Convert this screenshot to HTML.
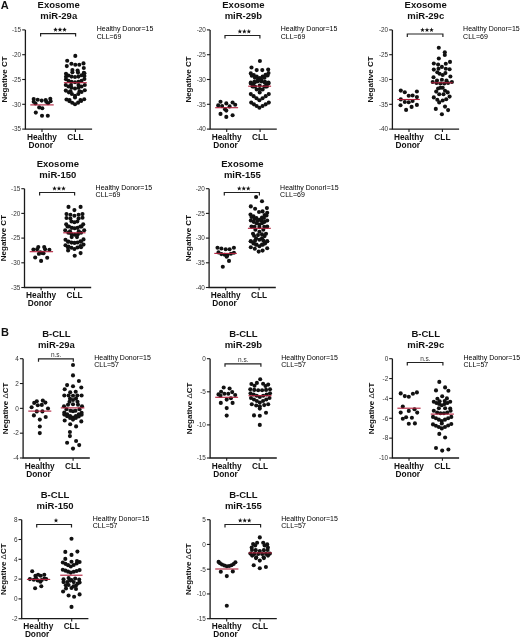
<!DOCTYPE html>
<html><head><meta charset="utf-8"><style>
html,body{margin:0;padding:0;background:#fff;}
body{width:520px;height:639px;overflow:hidden;}
svg{display:block;font-family:"Liberation Sans", sans-serif;will-change:transform;}
</style></head><body>
<svg width="520" height="639" viewBox="0 0 520 639">
<rect width="520" height="639" fill="#fff"/>
<path d="M25.40 29.90 V129.10 H92.10" fill="none" stroke="#1a1a1a" stroke-width="1.3"/>
<path d="M22.20 29.90 H25.40" stroke="#1a1a1a" stroke-width="1.1"/>
<text x="21.20" y="32.20" font-size="6.4" font-weight="normal" text-anchor="end" fill="#333" >-15</text>
<path d="M22.20 54.70 H25.40" stroke="#1a1a1a" stroke-width="1.1"/>
<text x="21.20" y="57.00" font-size="6.4" font-weight="normal" text-anchor="end" fill="#333" >-20</text>
<path d="M22.20 79.50 H25.40" stroke="#1a1a1a" stroke-width="1.1"/>
<text x="21.20" y="81.80" font-size="6.4" font-weight="normal" text-anchor="end" fill="#333" >-25</text>
<path d="M22.20 104.30 H25.40" stroke="#1a1a1a" stroke-width="1.1"/>
<text x="21.20" y="106.60" font-size="6.4" font-weight="normal" text-anchor="end" fill="#333" >-30</text>
<path d="M22.20 129.10 H25.40" stroke="#1a1a1a" stroke-width="1.1"/>
<text x="21.20" y="131.40" font-size="6.4" font-weight="normal" text-anchor="end" fill="#333" >-35</text>
<path d="M42.00 129.10 V131.90" stroke="#1a1a1a" stroke-width="1.1"/>
<path d="M75.40 129.10 V131.90" stroke="#1a1a1a" stroke-width="1.1"/>
<text x="42.00" y="139.80" font-size="8.3" font-weight="bold" text-anchor="middle" fill="#111" >Healthy</text>
<text x="40.80" y="147.70" font-size="8.3" font-weight="bold" text-anchor="middle" fill="#111" >Donor</text>
<text x="75.40" y="139.80" font-size="8.3" font-weight="bold" text-anchor="middle" fill="#111" >CLL</text>
<text x="58.70" y="8.10" font-size="9.5" font-weight="bold" text-anchor="middle" fill="#111" >Exosome</text>
<text x="58.70" y="18.70" font-size="9.5" font-weight="bold" text-anchor="middle" fill="#111" >miR-29a</text>
<text x="0" y="0" font-size="8" font-weight="bold" text-anchor="middle" fill="#111" transform="translate(6.80,79.50) rotate(-90)">Negative CT</text>
<text x="96.70" y="31.00" font-size="7" font-weight="normal" text-anchor="start" fill="#000" >Healthy Donor=15</text>
<text x="96.70" y="38.50" font-size="7" font-weight="normal" text-anchor="start" fill="#000" >CLL=69</text>
<path d="M40.60 36.60 V33.70 H75.60 V36.60" fill="none" stroke="#222" stroke-width="1.2"/>
<polygon points="55.50,27.30 56.12,28.85 57.78,28.96 56.50,30.02 56.91,31.64 55.50,30.75 54.09,31.64 54.50,30.02 53.22,28.96 54.88,28.85" fill="#111"/>
<polygon points="60.00,27.30 60.62,28.85 62.28,28.96 61.00,30.02 61.41,31.64 60.00,30.75 58.59,31.64 59.00,30.02 57.72,28.96 59.38,28.85" fill="#111"/>
<polygon points="64.50,27.30 65.12,28.85 66.78,28.96 65.50,30.02 65.91,31.64 64.50,30.75 63.09,31.64 63.50,30.02 62.22,28.96 63.88,28.85" fill="#111"/>
<g fill="#111">
<circle cx="33.70" cy="99.10" r="2.05"/>
<circle cx="37.70" cy="99.70" r="2.05"/>
<circle cx="41.70" cy="100.60" r="2.05"/>
<circle cx="45.70" cy="100.00" r="2.05"/>
<circle cx="50.30" cy="98.80" r="2.05"/>
<circle cx="50.60" cy="101.20" r="2.05"/>
<circle cx="33.70" cy="101.80" r="2.05"/>
<circle cx="46.30" cy="101.80" r="2.05"/>
<circle cx="39.20" cy="107.40" r="2.05"/>
<circle cx="42.30" cy="108.30" r="2.05"/>
<circle cx="35.80" cy="112.60" r="2.05"/>
<circle cx="42.00" cy="115.70" r="2.05"/>
<circle cx="47.80" cy="115.70" r="2.05"/>
<circle cx="35.50" cy="103.50" r="2.05"/>
<circle cx="48.00" cy="103.30" r="2.05"/>
<circle cx="75.30" cy="55.90" r="2.05"/>
<circle cx="67.20" cy="60.80" r="2.05"/>
<circle cx="66.80" cy="66.10" r="2.05"/>
<circle cx="71.40" cy="63.80" r="2.05"/>
<circle cx="75.30" cy="64.80" r="2.05"/>
<circle cx="79.30" cy="64.80" r="2.05"/>
<circle cx="83.50" cy="63.40" r="2.05"/>
<circle cx="83.80" cy="68.00" r="2.05"/>
<circle cx="72.40" cy="70.00" r="2.05"/>
<circle cx="72.40" cy="72.30" r="2.05"/>
<circle cx="77.60" cy="70.60" r="2.05"/>
<circle cx="78.00" cy="72.60" r="2.05"/>
<circle cx="83.80" cy="72.90" r="2.05"/>
<circle cx="66.00" cy="73.80" r="2.05"/>
<circle cx="68.50" cy="75.50" r="2.05"/>
<circle cx="71.50" cy="76.60" r="2.05"/>
<circle cx="75.00" cy="77.00" r="2.05"/>
<circle cx="78.50" cy="76.60" r="2.05"/>
<circle cx="81.50" cy="75.20" r="2.05"/>
<circle cx="84.40" cy="73.20" r="2.05"/>
<circle cx="66.00" cy="76.80" r="2.05"/>
<circle cx="84.40" cy="76.00" r="2.05"/>
<circle cx="66.00" cy="79.30" r="2.05"/>
<circle cx="68.50" cy="80.80" r="2.05"/>
<circle cx="71.50" cy="81.80" r="2.05"/>
<circle cx="75.00" cy="82.20" r="2.05"/>
<circle cx="78.50" cy="81.80" r="2.05"/>
<circle cx="81.50" cy="80.80" r="2.05"/>
<circle cx="84.40" cy="79.00" r="2.05"/>
<circle cx="65.80" cy="85.00" r="2.05"/>
<circle cx="68.50" cy="86.50" r="2.05"/>
<circle cx="71.50" cy="87.80" r="2.05"/>
<circle cx="75.00" cy="88.50" r="2.05"/>
<circle cx="78.50" cy="87.80" r="2.05"/>
<circle cx="81.50" cy="86.50" r="2.05"/>
<circle cx="84.80" cy="85.00" r="2.05"/>
<circle cx="71.00" cy="85.00" r="2.05"/>
<circle cx="78.50" cy="85.00" r="2.05"/>
<circle cx="65.80" cy="90.60" r="2.05"/>
<circle cx="68.87" cy="92.33" r="2.05"/>
<circle cx="71.93" cy="94.07" r="2.05"/>
<circle cx="75.00" cy="95.80" r="2.05"/>
<circle cx="78.27" cy="93.93" r="2.05"/>
<circle cx="81.53" cy="92.07" r="2.05"/>
<circle cx="84.80" cy="90.20" r="2.05"/>
<circle cx="70.50" cy="91.30" r="2.05"/>
<circle cx="79.50" cy="91.30" r="2.05"/>
<circle cx="75.00" cy="97.50" r="2.05"/>
<circle cx="66.50" cy="99.50" r="2.05"/>
<circle cx="69.33" cy="101.10" r="2.05"/>
<circle cx="72.17" cy="102.70" r="2.05"/>
<circle cx="75.00" cy="104.30" r="2.05"/>
<circle cx="78.07" cy="102.63" r="2.05"/>
<circle cx="81.13" cy="100.97" r="2.05"/>
<circle cx="84.20" cy="99.30" r="2.05"/>
<circle cx="69.50" cy="100.00" r="2.05"/>
<circle cx="80.50" cy="100.00" r="2.05"/>
</g>
<path d="M30.30 104.90 H53.70" stroke="#b01e3a" stroke-width="1.1"/>
<path d="M63.90 82.70 H86.80" stroke="#b01e3a" stroke-width="1.1"/>
<path d="M210.10 29.90 V129.10 H276.80" fill="none" stroke="#1a1a1a" stroke-width="1.3"/>
<path d="M206.90 29.90 H210.10" stroke="#1a1a1a" stroke-width="1.1"/>
<text x="205.90" y="32.20" font-size="6.4" font-weight="normal" text-anchor="end" fill="#333" >-20</text>
<path d="M206.90 54.70 H210.10" stroke="#1a1a1a" stroke-width="1.1"/>
<text x="205.90" y="57.00" font-size="6.4" font-weight="normal" text-anchor="end" fill="#333" >-25</text>
<path d="M206.90 79.50 H210.10" stroke="#1a1a1a" stroke-width="1.1"/>
<text x="205.90" y="81.80" font-size="6.4" font-weight="normal" text-anchor="end" fill="#333" >-30</text>
<path d="M206.90 104.30 H210.10" stroke="#1a1a1a" stroke-width="1.1"/>
<text x="205.90" y="106.60" font-size="6.4" font-weight="normal" text-anchor="end" fill="#333" >-35</text>
<path d="M206.90 129.10 H210.10" stroke="#1a1a1a" stroke-width="1.1"/>
<text x="205.90" y="131.40" font-size="6.4" font-weight="normal" text-anchor="end" fill="#333" >-40</text>
<path d="M226.70 129.10 V131.90" stroke="#1a1a1a" stroke-width="1.1"/>
<path d="M260.10 129.10 V131.90" stroke="#1a1a1a" stroke-width="1.1"/>
<text x="226.70" y="139.80" font-size="8.3" font-weight="bold" text-anchor="middle" fill="#111" >Healthy</text>
<text x="225.50" y="147.70" font-size="8.3" font-weight="bold" text-anchor="middle" fill="#111" >Donor</text>
<text x="260.10" y="139.80" font-size="8.3" font-weight="bold" text-anchor="middle" fill="#111" >CLL</text>
<text x="243.40" y="8.10" font-size="9.5" font-weight="bold" text-anchor="middle" fill="#111" >Exosome</text>
<text x="243.40" y="18.70" font-size="9.5" font-weight="bold" text-anchor="middle" fill="#111" >miR-29b</text>
<text x="0" y="0" font-size="8" font-weight="bold" text-anchor="middle" fill="#111" transform="translate(190.90,79.50) rotate(-90)">Negative CT</text>
<text x="280.70" y="31.00" font-size="7" font-weight="normal" text-anchor="start" fill="#000" >Healthy Donor=15</text>
<text x="280.70" y="38.50" font-size="7" font-weight="normal" text-anchor="start" fill="#000" >CLL=69</text>
<path d="M225.00 38.40 V35.50 H259.90 V38.40" fill="none" stroke="#222" stroke-width="1.2"/>
<polygon points="239.85,29.10 240.47,30.65 242.13,30.76 240.85,31.82 241.26,33.44 239.85,32.55 238.44,33.44 238.85,31.82 237.57,30.76 239.23,30.65" fill="#111"/>
<polygon points="244.35,29.10 244.97,30.65 246.63,30.76 245.35,31.82 245.76,33.44 244.35,32.55 242.94,33.44 243.35,31.82 242.07,30.76 243.73,30.65" fill="#111"/>
<polygon points="248.85,29.10 249.47,30.65 251.13,30.76 249.85,31.82 250.26,33.44 248.85,32.55 247.44,33.44 247.85,31.82 246.57,30.76 248.23,30.65" fill="#111"/>
<g fill="#111">
<circle cx="220.50" cy="101.80" r="2.05"/>
<circle cx="226.30" cy="103.40" r="2.05"/>
<circle cx="232.60" cy="102.50" r="2.05"/>
<circle cx="235.20" cy="104.80" r="2.05"/>
<circle cx="218.20" cy="105.40" r="2.05"/>
<circle cx="222.10" cy="106.10" r="2.05"/>
<circle cx="229.60" cy="106.40" r="2.05"/>
<circle cx="225.00" cy="109.30" r="2.05"/>
<circle cx="226.30" cy="110.60" r="2.05"/>
<circle cx="220.50" cy="113.90" r="2.05"/>
<circle cx="226.30" cy="116.90" r="2.05"/>
<circle cx="232.60" cy="115.20" r="2.05"/>
<circle cx="259.90" cy="61.00" r="2.05"/>
<circle cx="251.50" cy="67.50" r="2.05"/>
<circle cx="256.70" cy="70.10" r="2.05"/>
<circle cx="262.30" cy="70.10" r="2.05"/>
<circle cx="268.20" cy="69.50" r="2.05"/>
<circle cx="250.80" cy="73.40" r="2.05"/>
<circle cx="253.77" cy="75.03" r="2.05"/>
<circle cx="256.73" cy="76.67" r="2.05"/>
<circle cx="259.70" cy="78.30" r="2.05"/>
<circle cx="268.50" cy="73.10" r="2.05"/>
<circle cx="265.57" cy="74.83" r="2.05"/>
<circle cx="262.63" cy="76.57" r="2.05"/>
<circle cx="259.70" cy="78.30" r="2.05"/>
<circle cx="250.80" cy="82.60" r="2.05"/>
<circle cx="254.34" cy="81.77" r="2.05"/>
<circle cx="257.88" cy="81.35" r="2.05"/>
<circle cx="261.42" cy="81.35" r="2.05"/>
<circle cx="264.96" cy="81.77" r="2.05"/>
<circle cx="268.50" cy="82.60" r="2.05"/>
<circle cx="250.80" cy="83.50" r="2.05"/>
<circle cx="253.77" cy="86.47" r="2.05"/>
<circle cx="256.73" cy="89.43" r="2.05"/>
<circle cx="259.70" cy="92.40" r="2.05"/>
<circle cx="262.63" cy="89.43" r="2.05"/>
<circle cx="265.57" cy="86.47" r="2.05"/>
<circle cx="268.50" cy="83.50" r="2.05"/>
<circle cx="255.00" cy="86.50" r="2.05"/>
<circle cx="264.40" cy="86.50" r="2.05"/>
<circle cx="259.70" cy="85.50" r="2.05"/>
<circle cx="253.00" cy="84.50" r="2.05"/>
<circle cx="266.50" cy="84.50" r="2.05"/>
<circle cx="259.70" cy="89.00" r="2.05"/>
<circle cx="251.80" cy="75.80" r="2.05"/>
<circle cx="254.90" cy="77.80" r="2.05"/>
<circle cx="258.00" cy="79.80" r="2.05"/>
<circle cx="267.60" cy="75.50" r="2.05"/>
<circle cx="264.50" cy="77.65" r="2.05"/>
<circle cx="261.40" cy="79.80" r="2.05"/>
<circle cx="255.00" cy="82.20" r="2.05"/>
<circle cx="264.40" cy="82.20" r="2.05"/>
<circle cx="252.50" cy="86.50" r="2.05"/>
<circle cx="266.90" cy="86.50" r="2.05"/>
<circle cx="250.80" cy="94.10" r="2.05"/>
<circle cx="253.67" cy="96.17" r="2.05"/>
<circle cx="256.53" cy="98.23" r="2.05"/>
<circle cx="259.40" cy="100.30" r="2.05"/>
<circle cx="262.53" cy="98.23" r="2.05"/>
<circle cx="265.67" cy="96.17" r="2.05"/>
<circle cx="268.80" cy="94.10" r="2.05"/>
<circle cx="251.20" cy="102.60" r="2.05"/>
<circle cx="253.93" cy="104.33" r="2.05"/>
<circle cx="256.67" cy="106.07" r="2.05"/>
<circle cx="259.40" cy="107.80" r="2.05"/>
<circle cx="262.53" cy="106.07" r="2.05"/>
<circle cx="265.67" cy="104.33" r="2.05"/>
<circle cx="268.80" cy="102.60" r="2.05"/>
</g>
<path d="M215.20 107.70 H238.10" stroke="#b01e3a" stroke-width="1.1"/>
<path d="M248.20 86.20 H271.10" stroke="#b01e3a" stroke-width="1.1"/>
<path d="M392.40 29.90 V129.10 H459.10" fill="none" stroke="#1a1a1a" stroke-width="1.3"/>
<path d="M389.20 29.90 H392.40" stroke="#1a1a1a" stroke-width="1.1"/>
<text x="388.20" y="32.20" font-size="6.4" font-weight="normal" text-anchor="end" fill="#333" >-20</text>
<path d="M389.20 54.70 H392.40" stroke="#1a1a1a" stroke-width="1.1"/>
<text x="388.20" y="57.00" font-size="6.4" font-weight="normal" text-anchor="end" fill="#333" >-25</text>
<path d="M389.20 79.50 H392.40" stroke="#1a1a1a" stroke-width="1.1"/>
<text x="388.20" y="81.80" font-size="6.4" font-weight="normal" text-anchor="end" fill="#333" >-30</text>
<path d="M389.20 104.30 H392.40" stroke="#1a1a1a" stroke-width="1.1"/>
<text x="388.20" y="106.60" font-size="6.4" font-weight="normal" text-anchor="end" fill="#333" >-35</text>
<path d="M389.20 129.10 H392.40" stroke="#1a1a1a" stroke-width="1.1"/>
<text x="388.20" y="131.40" font-size="6.4" font-weight="normal" text-anchor="end" fill="#333" >-40</text>
<path d="M409.00 129.10 V131.90" stroke="#1a1a1a" stroke-width="1.1"/>
<path d="M442.40 129.10 V131.90" stroke="#1a1a1a" stroke-width="1.1"/>
<text x="409.00" y="139.80" font-size="8.3" font-weight="bold" text-anchor="middle" fill="#111" >Healthy</text>
<text x="407.80" y="147.70" font-size="8.3" font-weight="bold" text-anchor="middle" fill="#111" >Donor</text>
<text x="442.40" y="139.80" font-size="8.3" font-weight="bold" text-anchor="middle" fill="#111" >CLL</text>
<text x="425.70" y="8.10" font-size="9.5" font-weight="bold" text-anchor="middle" fill="#111" >Exosome</text>
<text x="425.70" y="18.70" font-size="9.5" font-weight="bold" text-anchor="middle" fill="#111" >miR-29c</text>
<text x="0" y="0" font-size="8" font-weight="bold" text-anchor="middle" fill="#111" transform="translate(373.40,79.50) rotate(-90)">Negative CT</text>
<text x="463.10" y="31.00" font-size="7" font-weight="normal" text-anchor="start" fill="#000" >Healthy Donor=15</text>
<text x="463.10" y="38.50" font-size="7" font-weight="normal" text-anchor="start" fill="#000" >CLL=69</text>
<path d="M407.30 36.90 V34.00 H442.90 V36.90" fill="none" stroke="#222" stroke-width="1.2"/>
<polygon points="422.50,27.60 423.12,29.15 424.78,29.26 423.50,30.32 423.91,31.94 422.50,31.05 421.09,31.94 421.50,30.32 420.22,29.26 421.88,29.15" fill="#111"/>
<polygon points="427.00,27.60 427.62,29.15 429.28,29.26 428.00,30.32 428.41,31.94 427.00,31.05 425.59,31.94 426.00,30.32 424.72,29.26 426.38,29.15" fill="#111"/>
<polygon points="431.50,27.60 432.12,29.15 433.78,29.26 432.50,30.32 432.91,31.94 431.50,31.05 430.09,31.94 430.50,30.32 429.22,29.26 430.88,29.15" fill="#111"/>
<g fill="#111">
<circle cx="400.80" cy="90.60" r="2.05"/>
<circle cx="404.80" cy="92.20" r="2.05"/>
<circle cx="416.90" cy="91.50" r="2.05"/>
<circle cx="408.70" cy="95.80" r="2.05"/>
<circle cx="412.60" cy="95.50" r="2.05"/>
<circle cx="416.90" cy="97.10" r="2.05"/>
<circle cx="400.80" cy="99.40" r="2.05"/>
<circle cx="404.80" cy="102.00" r="2.05"/>
<circle cx="408.70" cy="102.30" r="2.05"/>
<circle cx="412.60" cy="101.00" r="2.05"/>
<circle cx="400.50" cy="105.30" r="2.05"/>
<circle cx="411.60" cy="106.90" r="2.05"/>
<circle cx="416.90" cy="104.90" r="2.05"/>
<circle cx="406.10" cy="109.90" r="2.05"/>
<circle cx="438.80" cy="47.70" r="2.05"/>
<circle cx="444.80" cy="52.30" r="2.05"/>
<circle cx="444.80" cy="55.00" r="2.05"/>
<circle cx="438.80" cy="58.50" r="2.05"/>
<circle cx="433.80" cy="63.50" r="2.05"/>
<circle cx="438.10" cy="64.60" r="2.05"/>
<circle cx="445.80" cy="63.80" r="2.05"/>
<circle cx="450.00" cy="61.90" r="2.05"/>
<circle cx="433.80" cy="69.60" r="2.05"/>
<circle cx="438.50" cy="68.80" r="2.05"/>
<circle cx="441.90" cy="66.90" r="2.05"/>
<circle cx="445.80" cy="68.80" r="2.05"/>
<circle cx="449.60" cy="69.20" r="2.05"/>
<circle cx="439.60" cy="73.80" r="2.05"/>
<circle cx="442.70" cy="75.00" r="2.05"/>
<circle cx="445.40" cy="73.10" r="2.05"/>
<circle cx="437.30" cy="72.30" r="2.05"/>
<circle cx="433.50" cy="77.30" r="2.05"/>
<circle cx="450.40" cy="76.50" r="2.05"/>
<circle cx="432.70" cy="82.00" r="2.05"/>
<circle cx="436.54" cy="82.96" r="2.05"/>
<circle cx="440.38" cy="83.44" r="2.05"/>
<circle cx="444.22" cy="83.44" r="2.05"/>
<circle cx="448.06" cy="82.96" r="2.05"/>
<circle cx="451.90" cy="82.00" r="2.05"/>
<circle cx="441.90" cy="79.70" r="2.05"/>
<circle cx="437.00" cy="80.50" r="2.05"/>
<circle cx="446.50" cy="80.50" r="2.05"/>
<circle cx="440.40" cy="87.80" r="2.05"/>
<circle cx="438.10" cy="88.50" r="2.05"/>
<circle cx="442.70" cy="87.80" r="2.05"/>
<circle cx="436.20" cy="91.60" r="2.05"/>
<circle cx="445.00" cy="90.80" r="2.05"/>
<circle cx="447.70" cy="92.40" r="2.05"/>
<circle cx="439.20" cy="94.30" r="2.05"/>
<circle cx="443.50" cy="94.30" r="2.05"/>
<circle cx="433.80" cy="97.40" r="2.05"/>
<circle cx="437.30" cy="99.70" r="2.05"/>
<circle cx="439.20" cy="102.40" r="2.05"/>
<circle cx="442.70" cy="100.50" r="2.05"/>
<circle cx="446.20" cy="99.30" r="2.05"/>
<circle cx="449.60" cy="96.60" r="2.05"/>
<circle cx="435.80" cy="108.90" r="2.05"/>
<circle cx="445.00" cy="106.60" r="2.05"/>
<circle cx="448.10" cy="110.10" r="2.05"/>
<circle cx="441.90" cy="114.30" r="2.05"/>
</g>
<path d="M397.30 99.50 H419.80" stroke="#b01e3a" stroke-width="1.1"/>
<path d="M431.20 82.80 H452.70" stroke="#b01e3a" stroke-width="1.1"/>
<path d="M24.50 188.70 V287.50 H91.20" fill="none" stroke="#1a1a1a" stroke-width="1.3"/>
<path d="M21.30 188.70 H24.50" stroke="#1a1a1a" stroke-width="1.1"/>
<text x="20.30" y="191.00" font-size="6.4" font-weight="normal" text-anchor="end" fill="#333" >-15</text>
<path d="M21.30 213.40 H24.50" stroke="#1a1a1a" stroke-width="1.1"/>
<text x="20.30" y="215.70" font-size="6.4" font-weight="normal" text-anchor="end" fill="#333" >-20</text>
<path d="M21.30 238.10 H24.50" stroke="#1a1a1a" stroke-width="1.1"/>
<text x="20.30" y="240.40" font-size="6.4" font-weight="normal" text-anchor="end" fill="#333" >-25</text>
<path d="M21.30 262.80 H24.50" stroke="#1a1a1a" stroke-width="1.1"/>
<text x="20.30" y="265.10" font-size="6.4" font-weight="normal" text-anchor="end" fill="#333" >-30</text>
<path d="M21.30 287.50 H24.50" stroke="#1a1a1a" stroke-width="1.1"/>
<text x="20.30" y="289.80" font-size="6.4" font-weight="normal" text-anchor="end" fill="#333" >-35</text>
<path d="M41.10 287.50 V290.30" stroke="#1a1a1a" stroke-width="1.1"/>
<path d="M74.50 287.50 V290.30" stroke="#1a1a1a" stroke-width="1.1"/>
<text x="41.10" y="298.20" font-size="8.3" font-weight="bold" text-anchor="middle" fill="#111" >Healthy</text>
<text x="39.90" y="306.10" font-size="8.3" font-weight="bold" text-anchor="middle" fill="#111" >Donor</text>
<text x="74.50" y="298.20" font-size="8.3" font-weight="bold" text-anchor="middle" fill="#111" >CLL</text>
<text x="57.80" y="166.90" font-size="9.5" font-weight="bold" text-anchor="middle" fill="#111" >Exosome</text>
<text x="57.80" y="177.50" font-size="9.5" font-weight="bold" text-anchor="middle" fill="#111" >miR-150</text>
<text x="0" y="0" font-size="8" font-weight="bold" text-anchor="middle" fill="#111" transform="translate(5.90,238.10) rotate(-90)">Negative CT</text>
<text x="95.60" y="189.80" font-size="7" font-weight="normal" text-anchor="start" fill="#000" >Healthy Donor=15</text>
<text x="95.60" y="197.30" font-size="7" font-weight="normal" text-anchor="start" fill="#000" >CLL=69</text>
<path d="M39.60 195.40 V192.50 H74.60 V195.40" fill="none" stroke="#222" stroke-width="1.2"/>
<polygon points="54.50,186.10 55.12,187.65 56.78,187.76 55.50,188.82 55.91,190.44 54.50,189.55 53.09,190.44 53.50,188.82 52.22,187.76 53.88,187.65" fill="#111"/>
<polygon points="59.00,186.10 59.62,187.65 61.28,187.76 60.00,188.82 60.41,190.44 59.00,189.55 57.59,190.44 58.00,188.82 56.72,187.76 58.38,187.65" fill="#111"/>
<polygon points="63.50,186.10 64.12,187.65 65.78,187.76 64.50,188.82 64.91,190.44 63.50,189.55 62.09,190.44 62.50,188.82 61.22,187.76 62.88,187.65" fill="#111"/>
<g fill="#111">
<circle cx="38.30" cy="247.10" r="2.05"/>
<circle cx="44.20" cy="247.10" r="2.05"/>
<circle cx="33.40" cy="249.50" r="2.05"/>
<circle cx="37.10" cy="249.20" r="2.05"/>
<circle cx="45.10" cy="249.20" r="2.05"/>
<circle cx="49.40" cy="249.80" r="2.05"/>
<circle cx="40.20" cy="252.30" r="2.05"/>
<circle cx="42.00" cy="252.90" r="2.05"/>
<circle cx="38.90" cy="253.80" r="2.05"/>
<circle cx="43.50" cy="253.20" r="2.05"/>
<circle cx="35.20" cy="257.50" r="2.05"/>
<circle cx="47.20" cy="257.80" r="2.05"/>
<circle cx="41.10" cy="260.90" r="2.05"/>
<circle cx="68.50" cy="206.90" r="2.05"/>
<circle cx="80.60" cy="206.90" r="2.05"/>
<circle cx="74.40" cy="210.10" r="2.05"/>
<circle cx="66.50" cy="214.10" r="2.05"/>
<circle cx="70.40" cy="214.70" r="2.05"/>
<circle cx="74.40" cy="215.70" r="2.05"/>
<circle cx="78.60" cy="214.70" r="2.05"/>
<circle cx="82.50" cy="214.10" r="2.05"/>
<circle cx="66.50" cy="218.00" r="2.05"/>
<circle cx="70.40" cy="218.60" r="2.05"/>
<circle cx="78.60" cy="218.60" r="2.05"/>
<circle cx="82.50" cy="217.70" r="2.05"/>
<circle cx="71.50" cy="221.50" r="2.05"/>
<circle cx="77.30" cy="221.50" r="2.05"/>
<circle cx="74.40" cy="222.30" r="2.05"/>
<circle cx="66.20" cy="224.20" r="2.05"/>
<circle cx="69.03" cy="226.48" r="2.05"/>
<circle cx="71.87" cy="227.85" r="2.05"/>
<circle cx="74.70" cy="228.31" r="2.05"/>
<circle cx="77.53" cy="227.85" r="2.05"/>
<circle cx="80.37" cy="226.48" r="2.05"/>
<circle cx="83.20" cy="224.20" r="2.05"/>
<circle cx="67.50" cy="226.50" r="2.05"/>
<circle cx="81.50" cy="226.50" r="2.05"/>
<circle cx="65.20" cy="230.20" r="2.05"/>
<circle cx="68.37" cy="232.76" r="2.05"/>
<circle cx="71.53" cy="234.29" r="2.05"/>
<circle cx="74.70" cy="234.80" r="2.05"/>
<circle cx="77.87" cy="234.29" r="2.05"/>
<circle cx="81.03" cy="232.76" r="2.05"/>
<circle cx="84.20" cy="230.20" r="2.05"/>
<circle cx="70.00" cy="231.30" r="2.05"/>
<circle cx="78.80" cy="231.30" r="2.05"/>
<circle cx="71.70" cy="237.10" r="2.05"/>
<circle cx="77.00" cy="237.10" r="2.05"/>
<circle cx="65.50" cy="239.70" r="2.05"/>
<circle cx="68.50" cy="241.51" r="2.05"/>
<circle cx="71.50" cy="242.58" r="2.05"/>
<circle cx="74.50" cy="242.90" r="2.05"/>
<circle cx="77.50" cy="242.48" r="2.05"/>
<circle cx="80.50" cy="241.31" r="2.05"/>
<circle cx="83.50" cy="239.40" r="2.05"/>
<circle cx="68.00" cy="241.80" r="2.05"/>
<circle cx="81.00" cy="241.80" r="2.05"/>
<circle cx="65.50" cy="245.30" r="2.05"/>
<circle cx="68.47" cy="246.53" r="2.05"/>
<circle cx="71.43" cy="247.77" r="2.05"/>
<circle cx="74.40" cy="249.00" r="2.05"/>
<circle cx="77.43" cy="247.53" r="2.05"/>
<circle cx="80.47" cy="246.07" r="2.05"/>
<circle cx="83.50" cy="244.60" r="2.05"/>
<circle cx="68.00" cy="247.50" r="2.05"/>
<circle cx="81.00" cy="247.30" r="2.05"/>
<circle cx="68.10" cy="250.50" r="2.05"/>
<circle cx="80.60" cy="253.10" r="2.05"/>
<circle cx="74.70" cy="255.70" r="2.05"/>
</g>
<path d="M29.70 251.70 H53.10" stroke="#b01e3a" stroke-width="1.1"/>
<path d="M63.20 232.80 H85.50" stroke="#b01e3a" stroke-width="1.1"/>
<path d="M209.10 188.70 V287.50 H275.80" fill="none" stroke="#1a1a1a" stroke-width="1.3"/>
<path d="M205.90 188.70 H209.10" stroke="#1a1a1a" stroke-width="1.1"/>
<text x="204.90" y="191.00" font-size="6.4" font-weight="normal" text-anchor="end" fill="#333" >-20</text>
<path d="M205.90 213.40 H209.10" stroke="#1a1a1a" stroke-width="1.1"/>
<text x="204.90" y="215.70" font-size="6.4" font-weight="normal" text-anchor="end" fill="#333" >-25</text>
<path d="M205.90 238.10 H209.10" stroke="#1a1a1a" stroke-width="1.1"/>
<text x="204.90" y="240.40" font-size="6.4" font-weight="normal" text-anchor="end" fill="#333" >-30</text>
<path d="M205.90 262.80 H209.10" stroke="#1a1a1a" stroke-width="1.1"/>
<text x="204.90" y="265.10" font-size="6.4" font-weight="normal" text-anchor="end" fill="#333" >-35</text>
<path d="M205.90 287.50 H209.10" stroke="#1a1a1a" stroke-width="1.1"/>
<text x="204.90" y="289.80" font-size="6.4" font-weight="normal" text-anchor="end" fill="#333" >-40</text>
<path d="M225.70 287.50 V290.30" stroke="#1a1a1a" stroke-width="1.1"/>
<path d="M259.10 287.50 V290.30" stroke="#1a1a1a" stroke-width="1.1"/>
<text x="225.70" y="298.20" font-size="8.3" font-weight="bold" text-anchor="middle" fill="#111" >Healthy</text>
<text x="224.50" y="306.10" font-size="8.3" font-weight="bold" text-anchor="middle" fill="#111" >Donor</text>
<text x="259.10" y="298.20" font-size="8.3" font-weight="bold" text-anchor="middle" fill="#111" >CLL</text>
<text x="242.40" y="166.90" font-size="9.5" font-weight="bold" text-anchor="middle" fill="#111" >Exosome</text>
<text x="242.40" y="177.50" font-size="9.5" font-weight="bold" text-anchor="middle" fill="#111" >miR-155</text>
<text x="0" y="0" font-size="8" font-weight="bold" text-anchor="middle" fill="#111" transform="translate(190.90,238.10) rotate(-90)">Negative CT</text>
<text x="280.10" y="189.80" font-size="7" font-weight="normal" text-anchor="start" fill="#000" >Healthy DonorI=15</text>
<text x="280.10" y="197.30" font-size="7" font-weight="normal" text-anchor="start" fill="#000" >CLL=69</text>
<path d="M224.30 195.40 V192.50 H259.40 V195.40" fill="none" stroke="#222" stroke-width="1.2"/>
<polygon points="239.25,186.10 239.87,187.65 241.53,187.76 240.25,188.82 240.66,190.44 239.25,189.55 237.84,190.44 238.25,188.82 236.97,187.76 238.63,187.65" fill="#111"/>
<polygon points="243.75,186.10 244.37,187.65 246.03,187.76 244.75,188.82 245.16,190.44 243.75,189.55 242.34,190.44 242.75,188.82 241.47,187.76 243.13,187.65" fill="#111"/>
<polygon points="248.25,186.10 248.87,187.65 250.53,187.76 249.25,188.82 249.66,190.44 248.25,189.55 246.84,190.44 247.25,188.82 245.97,187.76 247.63,187.65" fill="#111"/>
<g fill="#111">
<circle cx="217.50" cy="247.80" r="2.05"/>
<circle cx="221.40" cy="248.50" r="2.05"/>
<circle cx="225.70" cy="249.20" r="2.05"/>
<circle cx="229.60" cy="249.20" r="2.05"/>
<circle cx="233.90" cy="247.80" r="2.05"/>
<circle cx="218.50" cy="252.40" r="2.05"/>
<circle cx="221.40" cy="254.10" r="2.05"/>
<circle cx="224.70" cy="254.70" r="2.05"/>
<circle cx="227.30" cy="255.40" r="2.05"/>
<circle cx="230.90" cy="253.70" r="2.05"/>
<circle cx="233.90" cy="252.80" r="2.05"/>
<circle cx="226.70" cy="256.70" r="2.05"/>
<circle cx="229.00" cy="260.90" r="2.05"/>
<circle cx="222.80" cy="266.80" r="2.05"/>
<circle cx="256.10" cy="197.00" r="2.05"/>
<circle cx="262.00" cy="201.20" r="2.05"/>
<circle cx="250.80" cy="206.40" r="2.05"/>
<circle cx="255.10" cy="208.70" r="2.05"/>
<circle cx="266.90" cy="208.10" r="2.05"/>
<circle cx="259.00" cy="212.00" r="2.05"/>
<circle cx="262.60" cy="211.40" r="2.05"/>
<circle cx="250.50" cy="214.60" r="2.05"/>
<circle cx="253.47" cy="216.33" r="2.05"/>
<circle cx="256.43" cy="218.07" r="2.05"/>
<circle cx="259.40" cy="219.80" r="2.05"/>
<circle cx="262.00" cy="217.43" r="2.05"/>
<circle cx="264.60" cy="215.07" r="2.05"/>
<circle cx="267.20" cy="212.70" r="2.05"/>
<circle cx="251.50" cy="217.00" r="2.05"/>
<circle cx="254.50" cy="219.00" r="2.05"/>
<circle cx="257.50" cy="221.00" r="2.05"/>
<circle cx="266.50" cy="215.50" r="2.05"/>
<circle cx="264.00" cy="218.00" r="2.05"/>
<circle cx="261.50" cy="220.50" r="2.05"/>
<circle cx="250.80" cy="220.50" r="2.05"/>
<circle cx="253.67" cy="221.87" r="2.05"/>
<circle cx="256.53" cy="223.23" r="2.05"/>
<circle cx="259.40" cy="224.60" r="2.05"/>
<circle cx="262.00" cy="223.23" r="2.05"/>
<circle cx="264.60" cy="221.87" r="2.05"/>
<circle cx="267.20" cy="220.50" r="2.05"/>
<circle cx="251.50" cy="226.60" r="2.05"/>
<circle cx="267.20" cy="226.60" r="2.05"/>
<circle cx="259.40" cy="226.90" r="2.05"/>
<circle cx="255.40" cy="229.80" r="2.05"/>
<circle cx="263.30" cy="229.80" r="2.05"/>
<circle cx="259.40" cy="231.80" r="2.05"/>
<circle cx="254.50" cy="226.80" r="2.05"/>
<circle cx="264.30" cy="226.80" r="2.05"/>
<circle cx="254.10" cy="235.70" r="2.05"/>
<circle cx="258.00" cy="235.10" r="2.05"/>
<circle cx="262.00" cy="234.40" r="2.05"/>
<circle cx="264.60" cy="236.10" r="2.05"/>
<circle cx="256.10" cy="238.40" r="2.05"/>
<circle cx="262.00" cy="238.40" r="2.05"/>
<circle cx="253.00" cy="233.80" r="2.05"/>
<circle cx="266.00" cy="233.80" r="2.05"/>
<circle cx="250.80" cy="241.30" r="2.05"/>
<circle cx="255.10" cy="240.50" r="2.05"/>
<circle cx="259.40" cy="239.70" r="2.05"/>
<circle cx="263.30" cy="240.50" r="2.05"/>
<circle cx="267.20" cy="241.30" r="2.05"/>
<circle cx="250.80" cy="241.30" r="2.05"/>
<circle cx="253.67" cy="242.93" r="2.05"/>
<circle cx="256.53" cy="244.57" r="2.05"/>
<circle cx="259.40" cy="246.20" r="2.05"/>
<circle cx="262.00" cy="244.57" r="2.05"/>
<circle cx="264.60" cy="242.93" r="2.05"/>
<circle cx="267.20" cy="241.30" r="2.05"/>
<circle cx="253.50" cy="243.50" r="2.05"/>
<circle cx="265.00" cy="243.50" r="2.05"/>
<circle cx="256.00" cy="244.80" r="2.05"/>
<circle cx="262.80" cy="244.80" r="2.05"/>
<circle cx="250.80" cy="247.20" r="2.05"/>
<circle cx="254.80" cy="248.80" r="2.05"/>
<circle cx="258.70" cy="251.60" r="2.05"/>
<circle cx="262.60" cy="250.60" r="2.05"/>
<circle cx="267.20" cy="248.20" r="2.05"/>
</g>
<path d="M214.30 253.40 H236.80" stroke="#b01e3a" stroke-width="1.1"/>
<path d="M247.90 228.30 H270.80" stroke="#b01e3a" stroke-width="1.1"/>
<path d="M23.10 358.70 V458.00 H89.80" fill="none" stroke="#1a1a1a" stroke-width="1.3"/>
<path d="M19.90 358.70 H23.10" stroke="#1a1a1a" stroke-width="1.1"/>
<text x="18.90" y="361.00" font-size="6.4" font-weight="normal" text-anchor="end" fill="#333" >4</text>
<path d="M19.90 383.52 H23.10" stroke="#1a1a1a" stroke-width="1.1"/>
<text x="18.90" y="385.82" font-size="6.4" font-weight="normal" text-anchor="end" fill="#333" >2</text>
<path d="M19.90 408.35 H23.10" stroke="#1a1a1a" stroke-width="1.1"/>
<text x="18.90" y="410.65" font-size="6.4" font-weight="normal" text-anchor="end" fill="#333" >0</text>
<path d="M19.90 433.18 H23.10" stroke="#1a1a1a" stroke-width="1.1"/>
<text x="18.90" y="435.48" font-size="6.4" font-weight="normal" text-anchor="end" fill="#333" >-2</text>
<path d="M19.90 458.00 H23.10" stroke="#1a1a1a" stroke-width="1.1"/>
<text x="18.90" y="460.30" font-size="6.4" font-weight="normal" text-anchor="end" fill="#333" >-4</text>
<path d="M39.70 458.00 V460.80" stroke="#1a1a1a" stroke-width="1.1"/>
<path d="M73.10 458.00 V460.80" stroke="#1a1a1a" stroke-width="1.1"/>
<text x="39.70" y="468.70" font-size="8.3" font-weight="bold" text-anchor="middle" fill="#111" >Healthy</text>
<text x="38.50" y="476.60" font-size="8.3" font-weight="bold" text-anchor="middle" fill="#111" >Donor</text>
<text x="73.10" y="468.70" font-size="8.3" font-weight="bold" text-anchor="middle" fill="#111" >CLL</text>
<text x="56.40" y="336.90" font-size="9.5" font-weight="bold" text-anchor="middle" fill="#111" >B-CLL</text>
<text x="56.40" y="347.50" font-size="9.5" font-weight="bold" text-anchor="middle" fill="#111" >miR-29a</text>
<text x="0" y="0" font-size="8" font-weight="bold" text-anchor="middle" fill="#111" transform="translate(7.50,408.35) rotate(-90)">Negative <tspan font-weight="normal">Δ</tspan>CT</text>
<text x="94.20" y="359.80" font-size="7" font-weight="normal" text-anchor="start" fill="#000" >Healthy Donor=15</text>
<text x="94.20" y="367.30" font-size="7" font-weight="normal" text-anchor="start" fill="#000" >CLL=57</text>
<path d="M38.50 361.80 V358.90 H73.30 V361.80" fill="none" stroke="#222" stroke-width="1.2"/>
<text x="56.20" y="356.90" font-size="6.5" font-weight="normal" text-anchor="middle" fill="#333" >n.s.</text>
<g fill="#111">
<circle cx="36.80" cy="401.20" r="2.05"/>
<circle cx="42.80" cy="400.60" r="2.05"/>
<circle cx="34.20" cy="402.90" r="2.05"/>
<circle cx="45.40" cy="402.60" r="2.05"/>
<circle cx="37.80" cy="405.20" r="2.05"/>
<circle cx="41.80" cy="404.90" r="2.05"/>
<circle cx="31.60" cy="407.20" r="2.05"/>
<circle cx="48.00" cy="408.50" r="2.05"/>
<circle cx="36.80" cy="411.40" r="2.05"/>
<circle cx="42.40" cy="411.40" r="2.05"/>
<circle cx="33.90" cy="415.40" r="2.05"/>
<circle cx="45.70" cy="417.00" r="2.05"/>
<circle cx="39.80" cy="419.60" r="2.05"/>
<circle cx="39.80" cy="426.50" r="2.05"/>
<circle cx="39.80" cy="433.10" r="2.05"/>
<circle cx="73.00" cy="365.00" r="2.05"/>
<circle cx="73.00" cy="375.40" r="2.05"/>
<circle cx="78.90" cy="381.00" r="2.05"/>
<circle cx="67.10" cy="385.10" r="2.05"/>
<circle cx="73.00" cy="386.20" r="2.05"/>
<circle cx="81.30" cy="387.50" r="2.05"/>
<circle cx="64.70" cy="389.30" r="2.05"/>
<circle cx="70.20" cy="392.30" r="2.05"/>
<circle cx="75.70" cy="391.70" r="2.05"/>
<circle cx="64.30" cy="395.50" r="2.05"/>
<circle cx="68.60" cy="395.50" r="2.05"/>
<circle cx="73.00" cy="395.80" r="2.05"/>
<circle cx="77.30" cy="395.50" r="2.05"/>
<circle cx="81.60" cy="395.50" r="2.05"/>
<circle cx="70.00" cy="398.80" r="2.05"/>
<circle cx="76.00" cy="398.60" r="2.05"/>
<circle cx="73.00" cy="400.00" r="2.05"/>
<circle cx="69.50" cy="401.80" r="2.05"/>
<circle cx="77.50" cy="401.80" r="2.05"/>
<circle cx="64.00" cy="406.30" r="2.05"/>
<circle cx="68.00" cy="404.80" r="2.05"/>
<circle cx="73.00" cy="404.20" r="2.05"/>
<circle cx="78.00" cy="404.80" r="2.05"/>
<circle cx="82.00" cy="406.30" r="2.05"/>
<circle cx="66.50" cy="409.30" r="2.05"/>
<circle cx="70.50" cy="410.80" r="2.05"/>
<circle cx="75.50" cy="410.80" r="2.05"/>
<circle cx="79.50" cy="409.30" r="2.05"/>
<circle cx="73.00" cy="411.30" r="2.05"/>
<circle cx="64.30" cy="412.60" r="2.05"/>
<circle cx="67.20" cy="414.27" r="2.05"/>
<circle cx="70.10" cy="415.93" r="2.05"/>
<circle cx="73.00" cy="417.60" r="2.05"/>
<circle cx="75.87" cy="416.00" r="2.05"/>
<circle cx="78.73" cy="414.40" r="2.05"/>
<circle cx="81.60" cy="412.80" r="2.05"/>
<circle cx="64.30" cy="414.60" r="2.05"/>
<circle cx="67.20" cy="416.27" r="2.05"/>
<circle cx="70.10" cy="417.93" r="2.05"/>
<circle cx="73.00" cy="419.60" r="2.05"/>
<circle cx="75.87" cy="418.00" r="2.05"/>
<circle cx="78.73" cy="416.40" r="2.05"/>
<circle cx="81.60" cy="414.80" r="2.05"/>
<circle cx="64.70" cy="420.50" r="2.05"/>
<circle cx="81.30" cy="421.40" r="2.05"/>
<circle cx="70.20" cy="424.30" r="2.05"/>
<circle cx="76.10" cy="426.40" r="2.05"/>
<circle cx="69.90" cy="432.00" r="2.05"/>
<circle cx="69.90" cy="436.10" r="2.05"/>
<circle cx="76.10" cy="441.00" r="2.05"/>
<circle cx="67.10" cy="442.70" r="2.05"/>
<circle cx="79.20" cy="445.10" r="2.05"/>
<circle cx="73.00" cy="448.60" r="2.05"/>
</g>
<path d="M28.30 411.10 H51.30" stroke="#b01e3a" stroke-width="1.1"/>
<path d="M60.80 407.90 H84.40" stroke="#b01e3a" stroke-width="1.1"/>
<path d="M210.10 358.70 V458.00 H276.80" fill="none" stroke="#1a1a1a" stroke-width="1.3"/>
<path d="M206.90 358.70 H210.10" stroke="#1a1a1a" stroke-width="1.1"/>
<text x="205.90" y="361.00" font-size="6.4" font-weight="normal" text-anchor="end" fill="#333" >0</text>
<path d="M206.90 391.80 H210.10" stroke="#1a1a1a" stroke-width="1.1"/>
<text x="205.90" y="394.10" font-size="6.4" font-weight="normal" text-anchor="end" fill="#333" >-5</text>
<path d="M206.90 424.90 H210.10" stroke="#1a1a1a" stroke-width="1.1"/>
<text x="205.90" y="427.20" font-size="6.4" font-weight="normal" text-anchor="end" fill="#333" >-10</text>
<path d="M206.90 458.00 H210.10" stroke="#1a1a1a" stroke-width="1.1"/>
<text x="205.90" y="460.30" font-size="6.4" font-weight="normal" text-anchor="end" fill="#333" >-15</text>
<path d="M226.70 458.00 V460.80" stroke="#1a1a1a" stroke-width="1.1"/>
<path d="M260.10 458.00 V460.80" stroke="#1a1a1a" stroke-width="1.1"/>
<text x="226.70" y="468.70" font-size="8.3" font-weight="bold" text-anchor="middle" fill="#111" >Healthy</text>
<text x="225.50" y="476.60" font-size="8.3" font-weight="bold" text-anchor="middle" fill="#111" >Donor</text>
<text x="260.10" y="468.70" font-size="8.3" font-weight="bold" text-anchor="middle" fill="#111" >CLL</text>
<text x="243.40" y="336.90" font-size="9.5" font-weight="bold" text-anchor="middle" fill="#111" >B-CLL</text>
<text x="243.40" y="347.50" font-size="9.5" font-weight="bold" text-anchor="middle" fill="#111" >miR-29b</text>
<text x="0" y="0" font-size="8" font-weight="bold" text-anchor="middle" fill="#111" transform="translate(191.90,408.35) rotate(-90)">Negative <tspan font-weight="normal">Δ</tspan>CT</text>
<text x="281.20" y="359.80" font-size="7" font-weight="normal" text-anchor="start" fill="#000" >Healthy Donor=15</text>
<text x="281.20" y="367.30" font-size="7" font-weight="normal" text-anchor="start" fill="#000" >CLL=57</text>
<path d="M225.00 366.80 V363.90 H260.90 V366.80" fill="none" stroke="#222" stroke-width="1.2"/>
<text x="243.25" y="361.90" font-size="6.5" font-weight="normal" text-anchor="middle" fill="#333" >n.s.</text>
<g fill="#111">
<circle cx="223.70" cy="387.50" r="2.05"/>
<circle cx="229.60" cy="388.50" r="2.05"/>
<circle cx="221.10" cy="391.80" r="2.05"/>
<circle cx="232.20" cy="392.10" r="2.05"/>
<circle cx="218.50" cy="394.40" r="2.05"/>
<circle cx="224.40" cy="393.70" r="2.05"/>
<circle cx="228.30" cy="393.70" r="2.05"/>
<circle cx="235.20" cy="395.00" r="2.05"/>
<circle cx="220.50" cy="395.70" r="2.05"/>
<circle cx="226.70" cy="399.60" r="2.05"/>
<circle cx="230.90" cy="398.30" r="2.05"/>
<circle cx="220.80" cy="402.90" r="2.05"/>
<circle cx="232.60" cy="402.90" r="2.05"/>
<circle cx="226.70" cy="408.10" r="2.05"/>
<circle cx="226.70" cy="415.60" r="2.05"/>
<circle cx="260.20" cy="379.20" r="2.05"/>
<circle cx="251.40" cy="384.00" r="2.05"/>
<circle cx="256.90" cy="382.90" r="2.05"/>
<circle cx="263.10" cy="383.80" r="2.05"/>
<circle cx="268.20" cy="384.60" r="2.05"/>
<circle cx="254.50" cy="385.80" r="2.05"/>
<circle cx="265.50" cy="386.00" r="2.05"/>
<circle cx="250.30" cy="389.20" r="2.05"/>
<circle cx="254.24" cy="389.90" r="2.05"/>
<circle cx="258.18" cy="390.26" r="2.05"/>
<circle cx="262.12" cy="390.26" r="2.05"/>
<circle cx="266.06" cy="389.90" r="2.05"/>
<circle cx="270.00" cy="389.20" r="2.05"/>
<circle cx="250.50" cy="393.30" r="2.05"/>
<circle cx="253.60" cy="394.53" r="2.05"/>
<circle cx="256.70" cy="395.77" r="2.05"/>
<circle cx="259.80" cy="397.00" r="2.05"/>
<circle cx="263.20" cy="395.77" r="2.05"/>
<circle cx="266.60" cy="394.53" r="2.05"/>
<circle cx="270.00" cy="393.30" r="2.05"/>
<circle cx="251.00" cy="398.00" r="2.05"/>
<circle cx="253.93" cy="399.50" r="2.05"/>
<circle cx="256.87" cy="401.00" r="2.05"/>
<circle cx="259.80" cy="402.50" r="2.05"/>
<circle cx="263.03" cy="401.00" r="2.05"/>
<circle cx="266.27" cy="399.50" r="2.05"/>
<circle cx="269.50" cy="398.00" r="2.05"/>
<circle cx="251.80" cy="404.20" r="2.05"/>
<circle cx="256.20" cy="405.50" r="2.05"/>
<circle cx="259.80" cy="406.20" r="2.05"/>
<circle cx="264.20" cy="405.10" r="2.05"/>
<circle cx="268.20" cy="404.30" r="2.05"/>
<circle cx="259.80" cy="408.60" r="2.05"/>
<circle cx="266.00" cy="412.80" r="2.05"/>
<circle cx="254.00" cy="415.40" r="2.05"/>
<circle cx="259.80" cy="415.70" r="2.05"/>
<circle cx="259.80" cy="424.90" r="2.05"/>
</g>
<path d="M215.20 397.30 H238.10" stroke="#b01e3a" stroke-width="1.1"/>
<path d="M248.50 395.70 H271.50" stroke="#b01e3a" stroke-width="1.1"/>
<path d="M392.40 358.70 V458.00 H459.10" fill="none" stroke="#1a1a1a" stroke-width="1.3"/>
<path d="M389.20 358.70 H392.40" stroke="#1a1a1a" stroke-width="1.1"/>
<text x="388.20" y="361.00" font-size="6.4" font-weight="normal" text-anchor="end" fill="#333" >0</text>
<path d="M389.20 378.56 H392.40" stroke="#1a1a1a" stroke-width="1.1"/>
<text x="388.20" y="380.86" font-size="6.4" font-weight="normal" text-anchor="end" fill="#333" >-2</text>
<path d="M389.20 398.42 H392.40" stroke="#1a1a1a" stroke-width="1.1"/>
<text x="388.20" y="400.72" font-size="6.4" font-weight="normal" text-anchor="end" fill="#333" >-4</text>
<path d="M389.20 418.28 H392.40" stroke="#1a1a1a" stroke-width="1.1"/>
<text x="388.20" y="420.58" font-size="6.4" font-weight="normal" text-anchor="end" fill="#333" >-6</text>
<path d="M389.20 438.14 H392.40" stroke="#1a1a1a" stroke-width="1.1"/>
<text x="388.20" y="440.44" font-size="6.4" font-weight="normal" text-anchor="end" fill="#333" >-8</text>
<path d="M389.20 458.00 H392.40" stroke="#1a1a1a" stroke-width="1.1"/>
<text x="388.20" y="460.30" font-size="6.4" font-weight="normal" text-anchor="end" fill="#333" >-10</text>
<path d="M409.00 458.00 V460.80" stroke="#1a1a1a" stroke-width="1.1"/>
<path d="M442.40 458.00 V460.80" stroke="#1a1a1a" stroke-width="1.1"/>
<text x="409.00" y="468.70" font-size="8.3" font-weight="bold" text-anchor="middle" fill="#111" >Healthy</text>
<text x="407.80" y="476.60" font-size="8.3" font-weight="bold" text-anchor="middle" fill="#111" >Donor</text>
<text x="442.40" y="468.70" font-size="8.3" font-weight="bold" text-anchor="middle" fill="#111" >CLL</text>
<text x="425.70" y="336.90" font-size="9.5" font-weight="bold" text-anchor="middle" fill="#111" >B-CLL</text>
<text x="425.70" y="347.50" font-size="9.5" font-weight="bold" text-anchor="middle" fill="#111" >miR-29c</text>
<text x="0" y="0" font-size="8" font-weight="bold" text-anchor="middle" fill="#111" transform="translate(373.90,408.35) rotate(-90)">Negative <tspan font-weight="normal">Δ</tspan>CT</text>
<text x="463.50" y="359.80" font-size="7" font-weight="normal" text-anchor="start" fill="#000" >Healthy Donor=15</text>
<text x="463.50" y="367.30" font-size="7" font-weight="normal" text-anchor="start" fill="#000" >CLL=57</text>
<path d="M407.30 365.40 V362.50 H442.90 V365.40" fill="none" stroke="#222" stroke-width="1.2"/>
<text x="425.40" y="360.50" font-size="6.5" font-weight="normal" text-anchor="middle" fill="#333" >n.s.</text>
<g fill="#111">
<circle cx="400.70" cy="393.40" r="2.05"/>
<circle cx="404.80" cy="396.10" r="2.05"/>
<circle cx="408.80" cy="396.80" r="2.05"/>
<circle cx="412.90" cy="393.80" r="2.05"/>
<circle cx="416.90" cy="392.40" r="2.05"/>
<circle cx="402.80" cy="406.50" r="2.05"/>
<circle cx="400.70" cy="412.60" r="2.05"/>
<circle cx="408.80" cy="410.90" r="2.05"/>
<circle cx="414.50" cy="409.20" r="2.05"/>
<circle cx="417.20" cy="412.60" r="2.05"/>
<circle cx="402.80" cy="418.70" r="2.05"/>
<circle cx="406.10" cy="417.30" r="2.05"/>
<circle cx="411.90" cy="417.70" r="2.05"/>
<circle cx="408.80" cy="423.70" r="2.05"/>
<circle cx="414.90" cy="423.40" r="2.05"/>
<circle cx="439.30" cy="381.90" r="2.05"/>
<circle cx="445.10" cy="387.40" r="2.05"/>
<circle cx="436.00" cy="390.40" r="2.05"/>
<circle cx="448.40" cy="390.70" r="2.05"/>
<circle cx="442.20" cy="396.20" r="2.05"/>
<circle cx="437.40" cy="398.80" r="2.05"/>
<circle cx="446.90" cy="398.40" r="2.05"/>
<circle cx="433.80" cy="401.80" r="2.05"/>
<circle cx="436.47" cy="402.93" r="2.05"/>
<circle cx="439.13" cy="404.07" r="2.05"/>
<circle cx="441.80" cy="405.20" r="2.05"/>
<circle cx="444.60" cy="404.07" r="2.05"/>
<circle cx="447.40" cy="402.93" r="2.05"/>
<circle cx="450.20" cy="401.80" r="2.05"/>
<circle cx="439.60" cy="401.30" r="2.05"/>
<circle cx="444.70" cy="401.10" r="2.05"/>
<circle cx="438.90" cy="408.30" r="2.05"/>
<circle cx="445.10" cy="408.30" r="2.05"/>
<circle cx="450.20" cy="408.60" r="2.05"/>
<circle cx="433.80" cy="410.80" r="2.05"/>
<circle cx="437.16" cy="412.47" r="2.05"/>
<circle cx="440.52" cy="413.30" r="2.05"/>
<circle cx="443.88" cy="413.30" r="2.05"/>
<circle cx="447.24" cy="412.47" r="2.05"/>
<circle cx="450.60" cy="410.80" r="2.05"/>
<circle cx="433.00" cy="416.90" r="2.05"/>
<circle cx="435.93" cy="418.27" r="2.05"/>
<circle cx="438.87" cy="419.63" r="2.05"/>
<circle cx="441.80" cy="421.00" r="2.05"/>
<circle cx="444.97" cy="419.63" r="2.05"/>
<circle cx="448.13" cy="418.27" r="2.05"/>
<circle cx="451.30" cy="416.90" r="2.05"/>
<circle cx="441.80" cy="423.50" r="2.05"/>
<circle cx="433.00" cy="424.40" r="2.05"/>
<circle cx="435.93" cy="425.73" r="2.05"/>
<circle cx="438.87" cy="427.07" r="2.05"/>
<circle cx="441.80" cy="428.40" r="2.05"/>
<circle cx="444.97" cy="426.93" r="2.05"/>
<circle cx="448.13" cy="425.47" r="2.05"/>
<circle cx="451.30" cy="424.00" r="2.05"/>
<circle cx="439.30" cy="433.90" r="2.05"/>
<circle cx="445.10" cy="437.50" r="2.05"/>
<circle cx="436.00" cy="448.00" r="2.05"/>
<circle cx="442.20" cy="450.60" r="2.05"/>
<circle cx="448.40" cy="449.50" r="2.05"/>
</g>
<path d="M397.40 408.20 H420.60" stroke="#b01e3a" stroke-width="1.1"/>
<path d="M430.80 414.10 H453.90" stroke="#b01e3a" stroke-width="1.1"/>
<path d="M21.70 519.70 V618.70 H88.40" fill="none" stroke="#1a1a1a" stroke-width="1.3"/>
<path d="M18.50 519.70 H21.70" stroke="#1a1a1a" stroke-width="1.1"/>
<text x="17.50" y="522.00" font-size="6.4" font-weight="normal" text-anchor="end" fill="#333" >8</text>
<path d="M18.50 539.50 H21.70" stroke="#1a1a1a" stroke-width="1.1"/>
<text x="17.50" y="541.80" font-size="6.4" font-weight="normal" text-anchor="end" fill="#333" >6</text>
<path d="M18.50 559.30 H21.70" stroke="#1a1a1a" stroke-width="1.1"/>
<text x="17.50" y="561.60" font-size="6.4" font-weight="normal" text-anchor="end" fill="#333" >4</text>
<path d="M18.50 579.10 H21.70" stroke="#1a1a1a" stroke-width="1.1"/>
<text x="17.50" y="581.40" font-size="6.4" font-weight="normal" text-anchor="end" fill="#333" >2</text>
<path d="M18.50 598.90 H21.70" stroke="#1a1a1a" stroke-width="1.1"/>
<text x="17.50" y="601.20" font-size="6.4" font-weight="normal" text-anchor="end" fill="#333" >0</text>
<path d="M18.50 618.70 H21.70" stroke="#1a1a1a" stroke-width="1.1"/>
<text x="17.50" y="621.00" font-size="6.4" font-weight="normal" text-anchor="end" fill="#333" >-2</text>
<path d="M38.30 618.70 V621.50" stroke="#1a1a1a" stroke-width="1.1"/>
<path d="M71.70 618.70 V621.50" stroke="#1a1a1a" stroke-width="1.1"/>
<text x="38.30" y="629.40" font-size="8.3" font-weight="bold" text-anchor="middle" fill="#111" >Healthy</text>
<text x="37.10" y="637.30" font-size="8.3" font-weight="bold" text-anchor="middle" fill="#111" >Donor</text>
<text x="71.70" y="629.40" font-size="8.3" font-weight="bold" text-anchor="middle" fill="#111" >CLL</text>
<text x="55.00" y="497.90" font-size="9.5" font-weight="bold" text-anchor="middle" fill="#111" >B-CLL</text>
<text x="55.00" y="508.50" font-size="9.5" font-weight="bold" text-anchor="middle" fill="#111" >miR-150</text>
<text x="0" y="0" font-size="8" font-weight="bold" text-anchor="middle" fill="#111" transform="translate(5.90,569.20) rotate(-90)">Negative <tspan font-weight="normal">Δ</tspan>CT</text>
<text x="92.80" y="520.80" font-size="7" font-weight="normal" text-anchor="start" fill="#000" >Healthy Donor=15</text>
<text x="92.80" y="528.30" font-size="7" font-weight="normal" text-anchor="start" fill="#000" >CLL=57</text>
<path d="M36.70 527.40 V524.50 H71.50 V527.40" fill="none" stroke="#222" stroke-width="1.2"/>
<polygon points="56.00,518.10 56.62,519.65 58.28,519.76 57.00,520.82 57.41,522.44 56.00,521.55 54.59,522.44 55.00,520.82 53.72,519.76 55.38,519.65" fill="#111"/>
<g fill="#111">
<circle cx="32.20" cy="571.20" r="2.05"/>
<circle cx="35.40" cy="575.80" r="2.05"/>
<circle cx="38.10" cy="574.80" r="2.05"/>
<circle cx="40.70" cy="575.80" r="2.05"/>
<circle cx="44.30" cy="574.80" r="2.05"/>
<circle cx="29.90" cy="579.10" r="2.05"/>
<circle cx="33.80" cy="579.70" r="2.05"/>
<circle cx="37.70" cy="580.40" r="2.05"/>
<circle cx="41.70" cy="580.00" r="2.05"/>
<circle cx="46.20" cy="579.10" r="2.05"/>
<circle cx="40.40" cy="581.70" r="2.05"/>
<circle cx="41.30" cy="586.30" r="2.05"/>
<circle cx="35.10" cy="588.20" r="2.05"/>
<circle cx="44.50" cy="578.50" r="2.05"/>
<circle cx="36.00" cy="578.00" r="2.05"/>
<circle cx="71.50" cy="538.80" r="2.05"/>
<circle cx="65.30" cy="551.90" r="2.05"/>
<circle cx="77.40" cy="551.60" r="2.05"/>
<circle cx="71.50" cy="554.90" r="2.05"/>
<circle cx="65.30" cy="558.90" r="2.05"/>
<circle cx="71.50" cy="561.80" r="2.05"/>
<circle cx="62.80" cy="562.50" r="2.05"/>
<circle cx="65.47" cy="563.83" r="2.05"/>
<circle cx="68.13" cy="565.17" r="2.05"/>
<circle cx="70.80" cy="566.50" r="2.05"/>
<circle cx="73.73" cy="565.00" r="2.05"/>
<circle cx="76.67" cy="563.50" r="2.05"/>
<circle cx="79.60" cy="562.00" r="2.05"/>
<circle cx="77.00" cy="561.10" r="2.05"/>
<circle cx="62.80" cy="569.70" r="2.05"/>
<circle cx="65.47" cy="570.67" r="2.05"/>
<circle cx="68.13" cy="571.63" r="2.05"/>
<circle cx="70.80" cy="572.60" r="2.05"/>
<circle cx="73.73" cy="571.77" r="2.05"/>
<circle cx="76.67" cy="570.93" r="2.05"/>
<circle cx="79.60" cy="570.10" r="2.05"/>
<circle cx="63.50" cy="579.20" r="2.05"/>
<circle cx="68.60" cy="578.10" r="2.05"/>
<circle cx="75.20" cy="578.50" r="2.05"/>
<circle cx="79.20" cy="579.60" r="2.05"/>
<circle cx="63.50" cy="582.10" r="2.05"/>
<circle cx="79.60" cy="582.50" r="2.05"/>
<circle cx="68.60" cy="585.00" r="2.05"/>
<circle cx="71.50" cy="588.00" r="2.05"/>
<circle cx="75.90" cy="585.80" r="2.05"/>
<circle cx="67.20" cy="582.10" r="2.05"/>
<circle cx="73.70" cy="582.10" r="2.05"/>
<circle cx="71.50" cy="580.00" r="2.05"/>
<circle cx="65.80" cy="585.20" r="2.05"/>
<circle cx="77.60" cy="583.60" r="2.05"/>
<circle cx="70.20" cy="580.60" r="2.05"/>
<circle cx="73.50" cy="586.20" r="2.05"/>
<circle cx="66.00" cy="588.50" r="2.05"/>
<circle cx="76.00" cy="589.00" r="2.05"/>
<circle cx="63.10" cy="591.50" r="2.05"/>
<circle cx="68.60" cy="595.50" r="2.05"/>
<circle cx="74.10" cy="596.80" r="2.05"/>
<circle cx="79.60" cy="594.40" r="2.05"/>
<circle cx="71.50" cy="606.90" r="2.05"/>
</g>
<path d="M26.90 579.40 H50.20" stroke="#b01e3a" stroke-width="1.1"/>
<path d="M60.20 575.20 H82.50" stroke="#b01e3a" stroke-width="1.1"/>
<path d="M210.10 519.70 V618.70 H276.80" fill="none" stroke="#1a1a1a" stroke-width="1.3"/>
<path d="M206.90 519.70 H210.10" stroke="#1a1a1a" stroke-width="1.1"/>
<text x="205.90" y="522.00" font-size="6.4" font-weight="normal" text-anchor="end" fill="#333" >5</text>
<path d="M206.90 544.45 H210.10" stroke="#1a1a1a" stroke-width="1.1"/>
<text x="205.90" y="546.75" font-size="6.4" font-weight="normal" text-anchor="end" fill="#333" >0</text>
<path d="M206.90 569.20 H210.10" stroke="#1a1a1a" stroke-width="1.1"/>
<text x="205.90" y="571.50" font-size="6.4" font-weight="normal" text-anchor="end" fill="#333" >-5</text>
<path d="M206.90 593.95 H210.10" stroke="#1a1a1a" stroke-width="1.1"/>
<text x="205.90" y="596.25" font-size="6.4" font-weight="normal" text-anchor="end" fill="#333" >-10</text>
<path d="M206.90 618.70 H210.10" stroke="#1a1a1a" stroke-width="1.1"/>
<text x="205.90" y="621.00" font-size="6.4" font-weight="normal" text-anchor="end" fill="#333" >-15</text>
<path d="M226.70 618.70 V621.50" stroke="#1a1a1a" stroke-width="1.1"/>
<path d="M260.10 618.70 V621.50" stroke="#1a1a1a" stroke-width="1.1"/>
<text x="226.70" y="629.40" font-size="8.3" font-weight="bold" text-anchor="middle" fill="#111" >Healthy</text>
<text x="225.50" y="637.30" font-size="8.3" font-weight="bold" text-anchor="middle" fill="#111" >Donor</text>
<text x="260.10" y="629.40" font-size="8.3" font-weight="bold" text-anchor="middle" fill="#111" >CLL</text>
<text x="243.40" y="497.90" font-size="9.5" font-weight="bold" text-anchor="middle" fill="#111" >B-CLL</text>
<text x="243.40" y="508.50" font-size="9.5" font-weight="bold" text-anchor="middle" fill="#111" >miR-155</text>
<text x="0" y="0" font-size="8" font-weight="bold" text-anchor="middle" fill="#111" transform="translate(191.40,569.20) rotate(-90)">Negative <tspan font-weight="normal">Δ</tspan>CT</text>
<text x="281.20" y="520.80" font-size="7" font-weight="normal" text-anchor="start" fill="#000" >Healthy Donor=15</text>
<text x="281.20" y="528.30" font-size="7" font-weight="normal" text-anchor="start" fill="#000" >CLL=57</text>
<path d="M225.00 527.40 V524.50 H260.60 V527.40" fill="none" stroke="#222" stroke-width="1.2"/>
<polygon points="240.20,518.10 240.82,519.65 242.48,519.76 241.20,520.82 241.61,522.44 240.20,521.55 238.79,522.44 239.20,520.82 237.92,519.76 239.58,519.65" fill="#111"/>
<polygon points="244.70,518.10 245.32,519.65 246.98,519.76 245.70,520.82 246.11,522.44 244.70,521.55 243.29,522.44 243.70,520.82 242.42,519.76 244.08,519.65" fill="#111"/>
<polygon points="249.20,518.10 249.82,519.65 251.48,519.76 250.20,520.82 250.61,522.44 249.20,521.55 247.79,522.44 248.20,520.82 246.92,519.76 248.58,519.65" fill="#111"/>
<g fill="#111">
<circle cx="218.60" cy="561.90" r="2.05"/>
<circle cx="222.00" cy="564.50" r="2.05"/>
<circle cx="226.80" cy="566.20" r="2.05"/>
<circle cx="231.50" cy="565.30" r="2.05"/>
<circle cx="235.40" cy="562.30" r="2.05"/>
<circle cx="220.00" cy="563.30" r="2.05"/>
<circle cx="224.40" cy="565.50" r="2.05"/>
<circle cx="229.20" cy="566.00" r="2.05"/>
<circle cx="233.60" cy="564.00" r="2.05"/>
<circle cx="220.80" cy="571.80" r="2.05"/>
<circle cx="232.80" cy="571.40" r="2.05"/>
<circle cx="226.80" cy="576.10" r="2.05"/>
<circle cx="226.80" cy="605.80" r="2.05"/>
<circle cx="259.80" cy="537.40" r="2.05"/>
<circle cx="253.10" cy="544.10" r="2.05"/>
<circle cx="257.10" cy="542.80" r="2.05"/>
<circle cx="263.20" cy="542.80" r="2.05"/>
<circle cx="267.20" cy="544.40" r="2.05"/>
<circle cx="255.20" cy="545.40" r="2.05"/>
<circle cx="264.60" cy="545.40" r="2.05"/>
<circle cx="251.70" cy="547.60" r="2.05"/>
<circle cx="255.75" cy="550.15" r="2.05"/>
<circle cx="259.80" cy="551.00" r="2.05"/>
<circle cx="263.85" cy="550.15" r="2.05"/>
<circle cx="267.90" cy="547.60" r="2.05"/>
<circle cx="252.00" cy="550.00" r="2.05"/>
<circle cx="267.60" cy="550.00" r="2.05"/>
<circle cx="250.40" cy="553.60" r="2.05"/>
<circle cx="254.30" cy="553.86" r="2.05"/>
<circle cx="258.20" cy="553.98" r="2.05"/>
<circle cx="262.10" cy="553.98" r="2.05"/>
<circle cx="266.00" cy="553.86" r="2.05"/>
<circle cx="269.90" cy="553.60" r="2.05"/>
<circle cx="252.20" cy="555.60" r="2.05"/>
<circle cx="256.00" cy="558.10" r="2.05"/>
<circle cx="259.80" cy="560.60" r="2.05"/>
<circle cx="263.90" cy="558.10" r="2.05"/>
<circle cx="268.00" cy="555.60" r="2.05"/>
<circle cx="256.20" cy="557.20" r="2.05"/>
<circle cx="263.60" cy="557.20" r="2.05"/>
<circle cx="253.70" cy="565.30" r="2.05"/>
<circle cx="259.80" cy="568.20" r="2.05"/>
<circle cx="265.90" cy="567.00" r="2.05"/>
</g>
<path d="M215.20 569.00 H238.40" stroke="#b01e3a" stroke-width="1.1"/>
<path d="M248.60 552.90 H271.80" stroke="#b01e3a" stroke-width="1.1"/>
<text x="0.80" y="9.20" font-size="11" font-weight="bold" text-anchor="start" fill="#111" >A</text>
<text x="0.90" y="336.00" font-size="11" font-weight="bold" text-anchor="start" fill="#111" >B</text>
</svg>
</body></html>
